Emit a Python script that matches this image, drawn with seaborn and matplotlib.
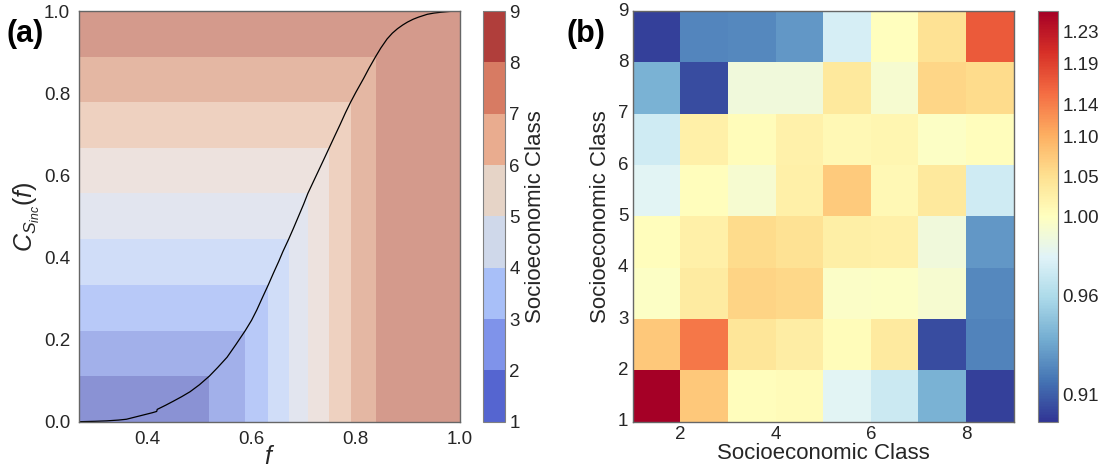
import numpy as np
import matplotlib
matplotlib.use('Agg')
import matplotlib.pyplot as plt
import seaborn as sns
from matplotlib.colors import ListedColormap, BoundaryNorm, TwoSlopeNorm
from matplotlib.cm import ScalarMappable

# ---- panel (a): cumulative income curve and class thresholds ----
f_vals = [0.269, 0.30, 0.322, 0.345, 0.36, 0.385, 0.41, 0.418, 0.419, 0.435,
          0.45, 0.466, 0.482, 0.50, 0.519, 0.535, 0.553, 0.57, 0.588, 0.60,
          0.61, 0.62, 0.632, 0.642, 0.652, 0.66, 0.671, 0.68, 0.69, 0.70,
          0.708, 0.718, 0.728, 0.738, 0.749, 0.76, 0.77, 0.78, 0.790, 0.80,
          0.815, 0.825, 0.838, 0.848, 0.86, 0.87, 0.88, 0.89, 0.899, 0.91,
          0.92, 0.937, 0.95, 0.963, 0.98, 1.0]
c_vals = [0.0, 0.001, 0.002, 0.004, 0.006, 0.014, 0.022, 0.025, 0.030, 0.040,
          0.050, 0.061, 0.073, 0.090, 0.111, 0.132, 0.157, 0.188, 0.222, 0.247,
          0.272, 0.300, 0.333, 0.362, 0.390, 0.414, 0.444, 0.470, 0.500, 0.530,
          0.556, 0.583, 0.610, 0.637, 0.667, 0.697, 0.724, 0.752, 0.778, 0.802,
          0.836, 0.860, 0.889, 0.910, 0.932, 0.946, 0.957, 0.966, 0.973, 0.980,
          0.985, 0.992, 0.995, 0.997, 0.999, 1.0]
# f thresholds between classes and the cumulative share levels
f_edges = [0.269, 0.519, 0.588, 0.632, 0.671, 0.708, 0.749, 0.790, 0.838, 1.0]
c_edges = [0.0, 0.111, 0.222, 0.333, 0.444, 0.556, 0.667, 0.778, 0.889, 1.0]
band_colors = ['#8a92d4', '#a2b0ea', '#b8c9f8', '#d0ddf8', '#e2e5ef',
               '#ede2de', '#eed1c0', '#e4b7a3', '#d49a8c']
cbar_a_colors = ['#5565d0', '#7f93ea', '#a8bff8', '#cfd8ea', '#e6d4c7',
                 '#e9ac8f', '#d77b63', '#b03e3b']
class_ticks = [1, 2, 3, 4, 5, 6, 7, 8, 9]

# ---- panel (b): class-class ratio matrix (rows: class 1 at bottom) ----
ratio = np.array([
    [1.26, 1.075, 1.003, 1.006, 0.981, 0.971, 0.940, 0.900],
    [1.075, 1.145, 1.040, 1.028, 1.005, 1.035, 0.904, 0.922],
    [0.998, 1.032, 1.063, 1.058, 0.997, 0.998, 0.994, 0.924],
    [1.003, 1.024, 1.055, 1.046, 1.026, 1.024, 0.990, 0.930],
    [0.981, 1.003, 0.994, 1.024, 1.072, 1.010, 1.037, 0.973],
    [0.973, 1.024, 1.005, 1.022, 1.010, 1.015, 0.998, 1.003],
    [0.940, 0.904, 0.990, 0.990, 1.037, 0.994, 1.060, 1.055],
    [0.900, 0.923, 0.924, 0.930, 0.975, 1.000, 1.046, 1.170],
])
cbar_b_ticks = [0.91, 0.96, 1.00, 1.05, 1.10, 1.14, 1.19, 1.23]
x_ticklabels = ['2', '4', '6', '8']
y_ticklabels = ['1', '2', '3', '4', '5', '6', '7', '8', '9']

sns.set_style('white')
plt.rcParams['font.family'] = ['Liberation Sans', 'DejaVu Sans']
plt.rcParams['mathtext.fontset'] = 'custom'
plt.rcParams['mathtext.it'] = 'Liberation Sans:italic'
plt.rcParams['mathtext.rm'] = 'Liberation Sans'
txt = '#262626'
fs = 13.5
lfs = 16

fig = plt.figure(figsize=(11.07, 4.67), dpi=100)
ax_a = fig.add_axes([0.0714, 0.097, 0.3442, 0.8794])
cax_a = fig.add_axes([0.4366, 0.097, 0.0196, 0.8794])
ax_b = fig.add_axes([0.5715, 0.097, 0.3442, 0.8794])
cax_b = fig.add_axes([0.9374, 0.097, 0.0186, 0.8794])

# panel (a)
nx = len(f_edges) - 1
ny = len(c_edges) - 1
grid = np.maximum.outer(np.arange(ny), np.arange(nx))
ax_a.pcolormesh(f_edges, c_edges, grid, cmap=ListedColormap(band_colors),
                vmin=-0.5, vmax=8.5, shading='flat', antialiased=False)
sns.lineplot(x=f_vals, y=c_vals, color='black', lw=0.9, ax=ax_a)
ax_a.set_xlim(f_edges[0], 1.0)
ax_a.set_ylim(0, 1.0)
ax_a.set_xticks([0.4, 0.6, 0.8, 1.0])
ax_a.set_yticks([0.0, 0.2, 0.4, 0.6, 0.8, 1.0])
ax_a.tick_params(labelsize=fs, colors=txt, pad=3)
ax_a.set_xlabel('$f$', fontsize=18, color=txt, labelpad=-2)
ax_a.set_ylabel('$C_{S_{inc}}(f)$', fontsize=18, color=txt, labelpad=1)

sm = ScalarMappable(norm=BoundaryNorm(class_ticks, len(cbar_a_colors)),
                    cmap=ListedColormap(cbar_a_colors))
cb_a = fig.colorbar(sm, cax=cax_a, ticks=class_ticks)
cb_a.ax.tick_params(labelsize=fs, colors=txt, length=0, pad=3)
cb_a.set_label('Socioeconomic Class', fontsize=lfs, color=txt, labelpad=4)

# panel (b)
norm = TwoSlopeNorm(vmin=0.896, vcenter=1.0, vmax=1.256)
sns.heatmap(ratio, cmap='RdYlBu_r', norm=norm, ax=ax_b, cbar_ax=cax_b,
            cbar_kws={'ticks': cbar_b_ticks, 'format': '%.2f'})
ax_b.invert_yaxis()
ax_b.set_xticks([1, 3, 5, 7])
ax_b.set_xticklabels(x_ticklabels, rotation=0)
ax_b.set_yticks(np.arange(len(y_ticklabels)))
ax_b.set_yticklabels(y_ticklabels, rotation=0)
ax_b.tick_params(labelsize=fs, colors=txt, length=0, pad=3)
ax_b.set_xlabel('Socioeconomic Class', fontsize=lfs, color=txt, labelpad=0)
ax_b.set_ylabel('Socioeconomic Class', fontsize=lfs, color=txt, labelpad=5)
cax_b.tick_params(labelsize=fs, colors=txt, length=0, pad=3)

for ax in (ax_a, ax_b):
    for sp in ax.spines.values():
        sp.set_visible(True)
        sp.set_color('0.4')
        sp.set_linewidth(1.0)
for cax in (cax_a, cax_b):
    for sp in cax.spines.values():
        sp.set_color('0.5')
        sp.set_linewidth(0.8)

fig.text(0.006, 1 - 42 / 467, '(a)', fontsize=22, fontweight='bold', color='black')
fig.text(0.512, 1 - 42 / 467, '(b)', fontsize=22, fontweight='bold', color='black')

fig.savefig('out.png', dpi=100)
